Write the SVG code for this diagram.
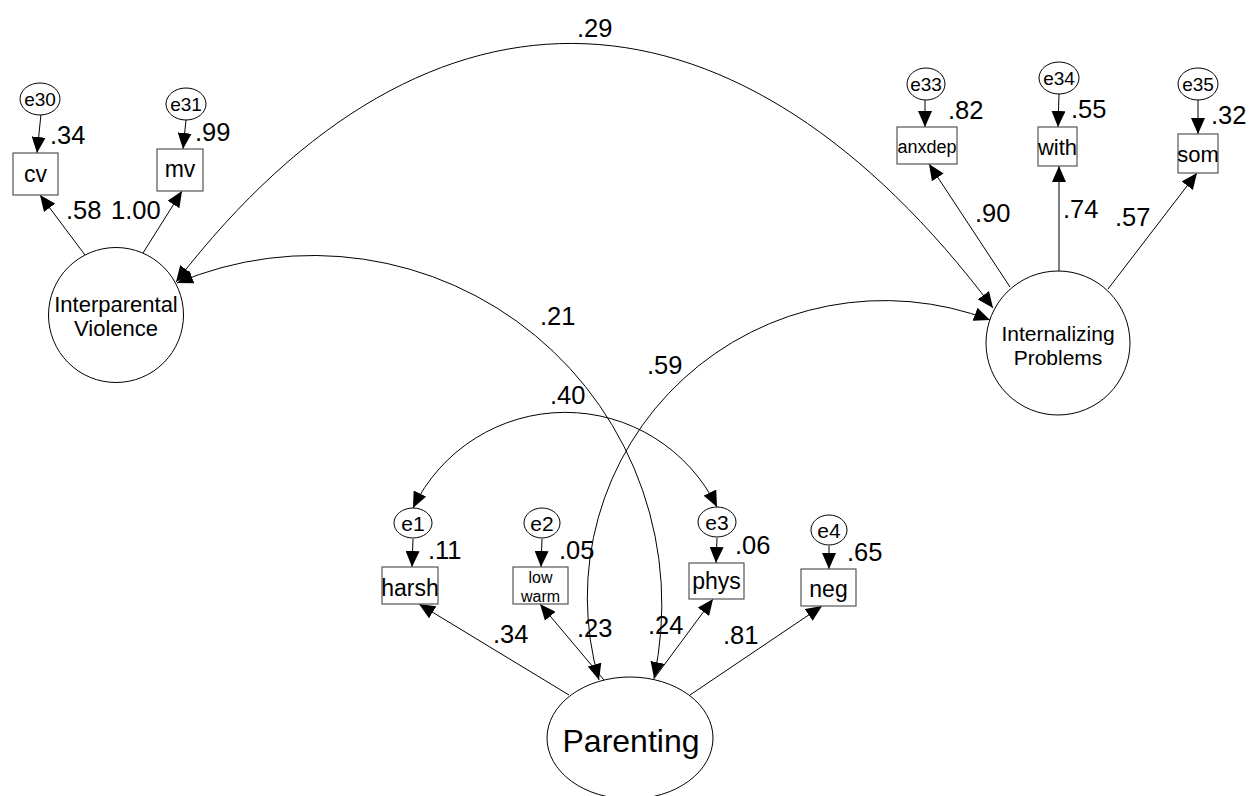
<svg xmlns="http://www.w3.org/2000/svg" width="1253" height="796" viewBox="0 0 1253 796">
<style>
text{font-family:"Liberation Sans",Arial,sans-serif;fill:#000}
.lat{fill:#fff;stroke:#000;stroke-width:1}
.err{fill:#fff;stroke:#000;stroke-width:1}
.box{fill:#fff;stroke:#555;stroke-width:1.2}
.c{fill:none;stroke:#000;stroke-width:1}
.num{font-size:25.5px}
.el{font-size:19px;text-anchor:middle}
.bl{font-size:23px;text-anchor:middle}
.sm{font-size:18px;text-anchor:middle}
.lt{font-size:22px;text-anchor:middle}
</style>
<defs>
<marker id="ah" viewBox="0 0 16 14" refX="16" refY="7" markerWidth="16" markerHeight="14" markerUnits="userSpaceOnUse" orient="auto-start-reverse">
<path d="M0,0 L16,7 L0,14 Z" fill="#000"/>
</marker>
</defs>
<g id="connectors">
<path class="c" d="M176,282 C433,-51 740,-29 993,308" marker-start="url(#ah)" marker-end="url(#ah)"/>
<path class="c" d="M177,283 A349,349 0 0 1 654,678" marker-start="url(#ah)" marker-end="url(#ah)"/>
<path class="c" d="M990,320 A297,297 0 0 0 599,680" marker-start="url(#ah)" marker-end="url(#ah)"/>
<path class="c" d="M413,508 A169,169 0 0 1 717,507" marker-start="url(#ah)" marker-end="url(#ah)"/>
<line class="c" x1="41" y1="114" x2="37" y2="153" marker-end="url(#ah)"/>
<line class="c" x1="186" y1="120" x2="183" y2="149" marker-end="url(#ah)"/>
<line class="c" x1="925" y1="100" x2="925" y2="127" marker-end="url(#ah)"/>
<line class="c" x1="1059" y1="94" x2="1058" y2="127" marker-end="url(#ah)"/>
<line class="c" x1="1198" y1="100" x2="1198" y2="134" marker-end="url(#ah)"/>
<line class="c" x1="413" y1="539" x2="412" y2="567" marker-end="url(#ah)"/>
<line class="c" x1="542" y1="539" x2="541" y2="567" marker-end="url(#ah)"/>
<line class="c" x1="717" y1="538" x2="716" y2="563" marker-end="url(#ah)"/>
<line class="c" x1="829" y1="546" x2="829" y2="569" marker-end="url(#ah)"/>
<line class="c" x1="85" y1="255" x2="40" y2="195" marker-end="url(#ah)"/>
<line class="c" x1="143" y1="253" x2="182" y2="191" marker-end="url(#ah)"/>
<line class="c" x1="1010" y1="287" x2="929" y2="164" marker-end="url(#ah)"/>
<line class="c" x1="1059" y1="272" x2="1059" y2="166" marker-end="url(#ah)"/>
<line class="c" x1="1108" y1="289" x2="1197" y2="173" marker-end="url(#ah)"/>
<line class="c" x1="569" y1="695" x2="419" y2="604" marker-end="url(#ah)"/>
<line class="c" x1="604" y1="680" x2="540" y2="604" marker-end="url(#ah)"/>
<line class="c" x1="653" y1="680" x2="713" y2="599" marker-end="url(#ah)"/>
<line class="c" x1="690" y1="695" x2="822" y2="606" marker-end="url(#ah)"/>
</g>
<g id="labels" class="num">
<text x="577" y="37">.29</text>
<text x="50" y="144">.34</text>
<text x="195" y="141">.99</text>
<text x="66" y="219">.58</text>
<text x="111" y="219">1.00</text>
<text x="948" y="119">.82</text>
<text x="1071" y="118">.55</text>
<text x="1211" y="124">.32</text>
<text x="975" y="222">.90</text>
<text x="1063" y="218">.74</text>
<text x="1115" y="226">.57</text>
<text x="540" y="325">.21</text>
<text x="647" y="374">.59</text>
<text x="550" y="404">.40</text>
<text x="428" y="559">.11</text>
<text x="559" y="559">.05</text>
<text x="735" y="554">.06</text>
<text x="847" y="561">.65</text>
<text x="493" y="643">.34</text>
<text x="577" y="637">.23</text>
<text x="648" y="634">.24</text>
<text x="723" y="644">.81</text>
</g>
<g id="IV"><circle class="lat" cx="116" cy="315" r="67.5"/><text class="lt" x="116" y="312">Interparental</text><text class="lt" x="116" y="336">Violence</text></g>
<g id="IP"><circle class="lat" cx="1058" cy="343" r="72"/><text class="lt" style="font-size:21px" x="1058" y="341">Internalizing</text><text class="lt" style="font-size:21px" x="1058" y="365">Problems</text></g>
<g id="P"><ellipse class="lat" cx="630" cy="738" rx="83" ry="61"/><text class="lt" style="font-size:32px" x="631" y="752">Parenting</text></g>
<g id="cv"><rect class="box" x="13" y="153" width="45" height="42"/><text class="bl" x="35.5" y="182">cv</text></g>
<g id="mv"><rect class="box" x="157" y="149" width="46" height="42"/><text class="bl" x="180" y="177">mv</text></g>
<g id="anxdep"><rect class="box" x="897" y="127" width="60" height="37"/><text class="sm" x="927" y="153">anxdep</text></g>
<g id="with"><rect class="box" x="1038" y="127" width="39" height="39"/><text class="bl" style="font-size:22px" x="1057.5" y="155">with</text></g>
<g id="som"><rect class="box" x="1178" y="134" width="40" height="39"/><text class="bl" style="font-size:22px" x="1198" y="162">som</text></g>
<g id="harsh"><rect class="box" x="382" y="567" width="56" height="37"/><text class="bl" x="410" y="596">harsh</text></g>
<g id="lowwarm"><rect class="box" x="513" y="567" width="55" height="37"/><text class="sm" style="font-size:16px" x="540.5" y="583">low</text><text class="sm" style="font-size:16px" x="540.5" y="602">warm</text></g>
<g id="phys"><rect class="box" x="689" y="563" width="55" height="36"/><text class="bl" x="716.5" y="589">phys</text></g>
<g id="neg"><rect class="box" x="801" y="569" width="55" height="37"/><text class="bl" x="828.5" y="597">neg</text></g>
<g id="e30"><ellipse class="err" cx="40" cy="99" rx="20" ry="16"/><text class="el" x="40" y="106">e30</text></g>
<g id="e31"><ellipse class="err" cx="186" cy="104" rx="20" ry="16"/><text class="el" x="186" y="111">e31</text></g>
<g id="e33"><ellipse class="err" cx="926" cy="84" rx="19" ry="16"/><text class="el" x="926" y="91">e33</text></g>
<g id="e34"><ellipse class="err" cx="1059" cy="78" rx="20" ry="16"/><text class="el" x="1059" y="85">e34</text></g>
<g id="e35"><ellipse class="err" cx="1198" cy="84" rx="20" ry="16"/><text class="el" x="1198" y="91">e35</text></g>
<g id="e1"><ellipse class="err" cx="413" cy="523" rx="19" ry="15"/><text class="el" style="font-size:21px" x="413" y="531">e1</text></g>
<g id="e2"><ellipse class="err" cx="542" cy="523" rx="18" ry="15"/><text class="el" style="font-size:21px" x="542" y="531">e2</text></g>
<g id="e3"><ellipse class="err" cx="717" cy="522" rx="19" ry="15"/><text class="el" style="font-size:21px" x="717" y="530">e3</text></g>
<g id="e4"><ellipse class="err" cx="829" cy="530" rx="18" ry="15"/><text class="el" style="font-size:21px" x="829" y="538">e4</text></g>
</svg>
